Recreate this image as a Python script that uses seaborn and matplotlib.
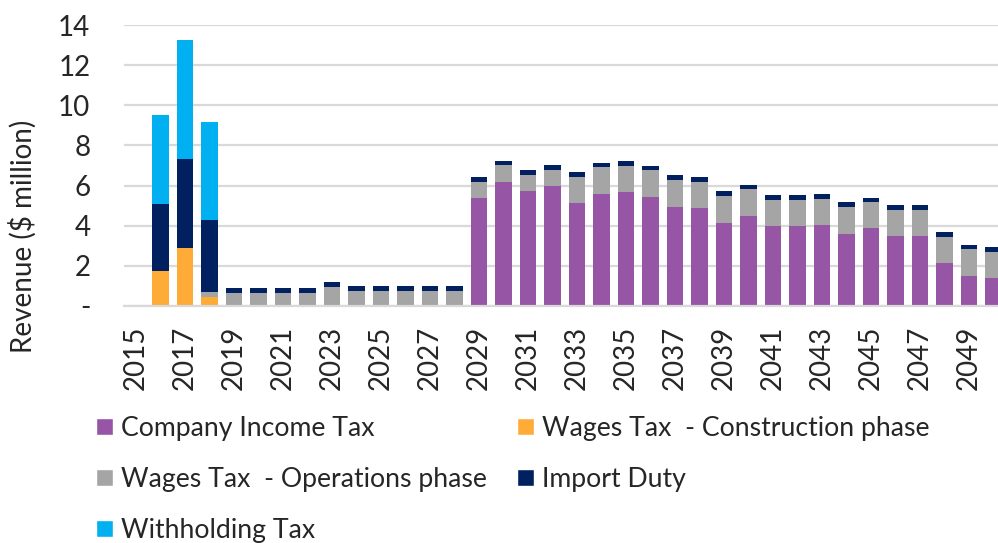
import numpy as np
import pandas as pd
import matplotlib
matplotlib.use("Agg")
import matplotlib.pyplot as plt
from matplotlib.patches import Patch
import seaborn as sns

years = list(range(2015, 2051))

company_income_tax = [0, 0, 0, 0, 0, 0, 0, 0, 0, 0, 0, 0, 0, 0,
                      5.40, 6.19, 5.75, 6.00, 5.15, 5.60, 5.70, 5.45, 4.95, 4.90, 4.15, 4.50,
                      3.97, 3.97, 4.04, 3.60, 3.87, 3.50, 3.50, 2.14, 1.51, 1.40]
wages_construction = [0, 1.76, 2.91, 0.46] + [0] * 32
wages_operations = [0, 0, 0, 0.25, 0.66, 0.66, 0.66, 0.66, 0.93, 0.75, 0.75, 0.75, 0.75, 0.75,
                    0.76, 0.82, 0.76, 0.78, 1.29, 1.31, 1.30, 1.31, 1.33, 1.29, 1.33, 1.31,
                    1.31, 1.31, 1.29, 1.32, 1.30, 1.30, 1.30, 1.31, 1.32, 1.31]
import_duty = [0, 3.34, 4.43, 3.59, 0.22, 0.22, 0.22, 0.22, 0.27, 0.25, 0.25, 0.25, 0.25, 0.25,
               0.25, 0.21, 0.25, 0.23, 0.24, 0.23, 0.22, 0.22, 0.23, 0.25, 0.23, 0.23,
               0.23, 0.23, 0.23, 0.25, 0.23, 0.23, 0.23, 0.24, 0.21, 0.24]
withholding_tax = [0, 4.42, 5.91, 4.85] + [0] * 32

series = [
    ("Company Income Tax", company_income_tax, "#9655A5"),
    ("Wages Tax  - Construction phase", wages_construction, "#FFAB38"),
    ("Wages Tax  - Operations phase", wages_operations, "#A5A5A5"),
    ("Import Duty", import_duty, "#002060"),
    ("Withholding Tax", withholding_tax, "#00B0F0"),
]

df = pd.DataFrame({"year": years})
for name, vals, _ in series:
    df[name] = vals

sns.set_style("white")
plt.rcParams["font.family"] = ["Lato", "DejaVu Sans"]

fig = plt.figure(figsize=(9.98, 5.43), dpi=100)
ax = fig.add_axes([123.7 / 998, 1 - 306 / 543, (998 - 123.7) / 998, 281 / 543])

# stack the series one on top of the other
bottom = np.zeros(len(years))
for name, vals, color in series:
    sns.barplot(data=df, x="year", y=name, color=color, bottom=bottom, width=0.69,
                errorbar=None, linewidth=0, saturation=1, ax=ax)
    bottom = bottom + np.array(vals)

ax.set_ylim(0, 14)
ax.set_xlim(-0.5, (998 - 136) / 24.5)
ax.set_yticks(range(0, 15, 2))
ax.set_yticklabels(["-"] + [str(v) for v in range(2, 15, 2)])
ax.set_xticks(range(0, len(years), 2))
ax.set_xticklabels([str(y) for y in years[::2]], rotation=90)
ax.tick_params(axis="y", length=0, pad=24, labelsize=20)
ax.tick_params(axis="x", length=0, pad=14, labelsize=20)
ax.set_xlabel("")
ax.set_ylabel("")
ax.yaxis.grid(True, color="#D9D9D9", linewidth=1.6)
ax.set_axisbelow(True)
for s in ["left", "right", "top"]:
    ax.spines[s].set_visible(False)
ax.spines["bottom"].set_color("#D9D9D9")
ax.spines["bottom"].set_linewidth(1.6)

fig.text(23 / 998, 1 - 236 / 543, "Revenue ($ million)", rotation=90,
         ha="center", va="center", fontsize=20)

handles = {name: Patch(facecolor=color) for name, _, color in series}
order = ["Company Income Tax", "Wages Tax  - Operations phase", "Withholding Tax",
         "Wages Tax  - Construction phase", "Import Duty"]
fig.legend([handles[n] for n in order], order, ncol=2, frameon=False, fontsize=19.2,
           loc="upper left", bbox_to_anchor=(96 / 998, 1 - 416 / 543),
           handlelength=0.62, handleheight=0.62, handletextpad=0.3,
           columnspacing=1.16, labelspacing=0.97, borderpad=0, borderaxespad=0)

fig.savefig("out.png", dpi=100)
